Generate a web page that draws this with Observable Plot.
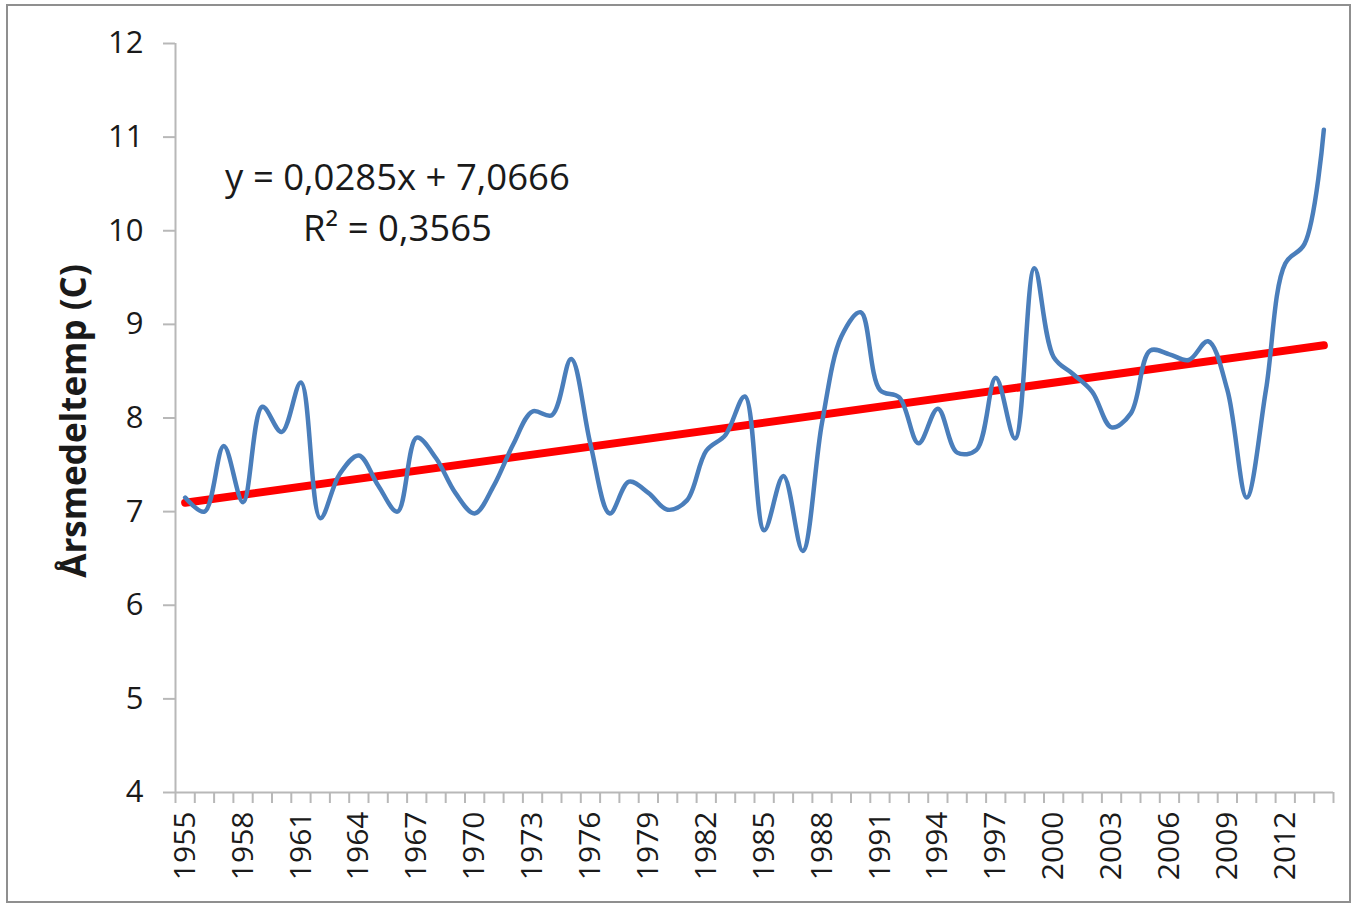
<!DOCTYPE html>
<html>
<head>
<meta charset="utf-8">
<script src="https://cdn.jsdelivr.net/npm/d3@7"></script>
<script src="https://cdn.jsdelivr.net/npm/@observablehq/plot@0.6"></script>
<style>
  html, body { margin: 0; padding: 0; background: #fff; }
  #wrap { position: relative; width: 1356px; height: 907px; overflow: hidden; }
  #frame { position: absolute; left: 6px; top: 4px; width: 1345px; height: 899px; border: 2px solid #8f8f8f; box-sizing: border-box; pointer-events: none; }
  #chart { position: absolute; left: 0; top: 0; }
</style>
</head>
<body>
<div id="wrap"><div id="chart"></div><div id="frame"></div></div>
<script>
// Categories (years)
const years = [1955,1956,1957,1958,1959,1960,1961,1962,1963,1964,
               1965,1966,1967,1968,1969,1970,1971,1972,1973,1974,
               1975,1976,1977,1978,1979,1980,1981,1982,1983,1984,
               1985,1986,1987,1988,1989,1990,1991,1992,1993,1994,
               1995,1996,1997,1998,1999,2000,2001,2002,2003,2004,
               2005,2006,2007,2008,2009,2010,2011,2012,2013,2014];
// Annual mean temperature (°C)
const temps = [7.15,7.00,7.70,7.10,8.12,7.85,8.38,6.93,7.40,7.60,
               7.28,7.00,7.79,7.57,7.20,6.98,7.28,7.72,8.07,8.03,
               8.63,7.72,6.98,7.32,7.20,7.02,7.12,7.65,7.82,8.23,
               6.80,7.38,6.58,7.95,8.87,9.13,8.30,8.22,7.73,8.10,
               7.63,7.66,8.43,7.78,9.60,8.65,8.47,8.28,7.90,8.05,
               8.72,8.68,8.62,8.82,8.30,7.15,8.30,9.65,9.86,11.08];
// Linear trend as shown on the chart
const trendSlope = 0.0285;
const trendIntercept = 7.0666;
const equationText = ["y = 0,0285x + 7,0666", "R² = 0,3565"];
// Axis ticks
const yTicks = [4,5,6,7,8,9,10,11,12];
const xLabelYears = [1955,1958,1961,1964,1967,1970,1973,1976,1979,1982,1985,1988,1991,1994,1997,2000,2003,2006,2009,2012];
const yTitle = "Årsmedeltemp (C)";

const series = years.map((yr, i) => ({year: yr, temp: temps[i]}));
const trendEnds = [years[0], years[years.length - 1]].map(yr => ({
  year: yr, temp: trendSlope * (years.indexOf(yr) + 1) + trendIntercept
}));
const xBoundaries = years.map(y => y - 0.5).concat([years[years.length - 1] + 0.5]);
const xDomain = [years[0] - 0.5, years[years.length - 1] + 0.5];

const axisColor = "#b8b8b8";
const font = "Open Sans";

const chart = Plot.plot({
  width: 1356,
  height: 907,
  marginLeft: 175,
  marginRight: 23,
  marginTop: 43,
  marginBottom: 115,
  style: {fontFamily: font, background: "transparent", color: "#1a1a1a"},
  x: {type: "linear", domain: xDomain},
  y: {domain: [yTicks[0], yTicks[yTicks.length - 1]]},
  marks: [
    // axis lines
    Plot.ruleX([xDomain[0]], {stroke: axisColor, strokeWidth: 2}),
    Plot.ruleY([yTicks[0]], {stroke: axisColor, strokeWidth: 2}),
    // y ticks and labels
    Plot.axisY({ticks: yTicks, tickSize: 12, stroke: axisColor, strokeWidth: 2, fill: "none", label: null}),
    Plot.axisY({ticks: yTicks, tickSize: 12, tickPadding: 20, stroke: "none", fill: "#1a1a1a", fontSize: 31, label: null, tickFormat: d => String(d)}),
    // x ticks between categories
    Plot.axisX({ticks: xBoundaries, tickSize: 11, stroke: axisColor, strokeWidth: 2, fill: "none", label: null}),
    // x labels
    Plot.axisX({ticks: xLabelYears, tickSize: 0, tickPadding: 19, tickRotate: -90, stroke: "none", fill: "#1a1a1a", fontSize: 30, label: null, tickFormat: d => String(d)}),
    // y title
    Plot.text([yTitle], {frameAnchor: "left", dx: -101, dy: 3, rotate: -90, textAnchor: "middle", fontWeight: "bold", fontSize: 35, fill: "#1a1a1a"}),
    // trend line
    Plot.line(trendEnds, {x: "year", y: "temp", stroke: "#ff0000", strokeWidth: 8}),
    // data line
    Plot.line(series, {x: "year", y: "temp", stroke: "#4a7ebb", strokeWidth: 4.5, curve: "catmull-rom"}),
    // equation
    Plot.text([equationText.join("\n")], {x: () => 1966.0, y: () => 10.34, textAnchor: "middle", fontSize: 36.5, lineHeight: 1.39, fill: "#1a1a1a"})
  ]
});
document.getElementById("chart").appendChild(chart);
</script>
</body>
</html>
